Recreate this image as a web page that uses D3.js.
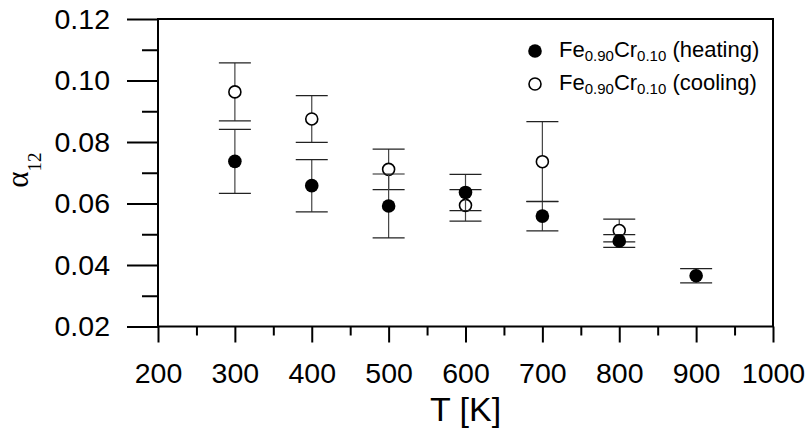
<!DOCTYPE html>
<html>
<head>
<meta charset="utf-8">
<script src="https://cdn.jsdelivr.net/npm/d3@7"></script>
<style>
  body { margin: 0; background: #fff; }
  svg { display: block; }
  text { font-family: "Liberation Sans", Arial, sans-serif; fill: #000; }
</style>
</head>
<body>
<div id="container"></div>
<script>
// Chart Data
var temps = [300, 400, 500, 600, 700, 800, 900];
var heating = [0.0737, 0.0658, 0.0592, 0.0636, 0.0559, 0.0478, 0.0365];
var heatingErr = [0.0104, 0.0085, 0.0104, 0.0059, 0.0048, 0.0021, 0.0023];
var coolTemps = [300, 400, 500, 600, 700, 800];
var cooling = [0.0963, 0.0875, 0.0711, 0.0594, 0.0736, 0.0512];
var coolingErr = [0.0094, 0.0076, 0.0066, 0.0051, 0.0130, 0.0037];
var xTicks = [200, 300, 400, 500, 600, 700, 800, 900, 1000];
var xMinor = [250, 350, 450, 550, 650, 750, 850, 950];
var yTicks = [0.02, 0.04, 0.06, 0.08, 0.10, 0.12];
var yMinor = [0.03, 0.05, 0.07, 0.09, 0.11];

var W = 807, H = 428;
var box = {left: 158, right: 773, top: 19, bottom: 326.5};

var svg = d3.select('#container').append('svg')
    .attr('width', W)
    .attr('height', H);

var x = d3.scaleLinear().domain([200, 1000]).range([box.left, box.right]);
var y = d3.scaleLinear().domain([0.02, 0.12]).range([box.bottom, box.top]);

// Minor Ticks First, Then Major Ticks With Labels
svg.append('g')
    .attr('transform', 'translate(0,' + box.bottom + ')')
    .call(d3.axisBottom(x).tickValues(xMinor).tickSize(9).tickSizeOuter(0).tickFormat(''))
    .call(function(g) { g.select('.domain').remove(); });
svg.append('g')
    .attr('transform', 'translate(0,' + box.bottom + ')')
    .call(d3.axisBottom(x).tickValues(xTicks).tickSize(16).tickSizeOuter(0).tickPadding(20).tickFormat(d3.format('d')))
    .call(function(g) { g.select('.domain').remove(); });

svg.append('g')
    .attr('transform', 'translate(' + box.left + ',0)')
    .call(d3.axisLeft(y).tickValues(yMinor).tickSize(16).tickSizeOuter(0).tickFormat(''))
    .call(function(g) { g.select('.domain').remove(); });
svg.append('g')
    .attr('transform', 'translate(' + box.left + ',0)')
    .call(d3.axisLeft(y).tickValues(yTicks).tickSize(31).tickSizeOuter(0).tickPadding(17).tickFormat(d3.format('.2f')))
    .call(function(g) { g.select('.domain').remove(); });

svg.selectAll('.tick line').attr('stroke', '#000').attr('stroke-width', 2);
svg.selectAll('.tick text')
    .attr('fill', '#000')
    .style('font-size', '28.5px')
    .style('font-family', '"Liberation Sans", Arial, sans-serif');

// Plot Frame
svg.append('rect')
    .attr('x', box.left)
    .attr('y', box.top)
    .attr('width', box.right - box.left)
    .attr('height', box.bottom - box.top)
    .attr('fill', 'none')
    .attr('stroke', '#000')
    .attr('stroke-width', 2);

// Error Bars And Markers For One Series
function drawSeries(xs, vals, errs, filled) {
  var g = svg.append('g');
  var rows = xs.map(function(t, i) { return {t: t, v: vals[i], e: errs[i]}; });
  g.selectAll('line.bar').data(rows).enter().append('line')
      .attr('x1', function(d) { return x(d.t); })
      .attr('x2', function(d) { return x(d.t); })
      .attr('y1', function(d) { return y(d.v + d.e); })
      .attr('y2', function(d) { return y(d.v - d.e); })
      .attr('stroke', '#444')
      .attr('stroke-width', 1.2);
  [1, -1].forEach(function(s) {
    g.selectAll('line.cap' + s).data(rows).enter().append('line')
        .attr('x1', function(d) { return x(d.t) - 16; })
        .attr('x2', function(d) { return x(d.t) + 16; })
        .attr('y1', function(d) { return y(d.v + s * d.e); })
        .attr('y2', function(d) { return y(d.v + s * d.e); })
        .attr('stroke', '#222')
        .attr('stroke-width', 1.2);
  });
  g.selectAll('circle').data(rows).enter().append('circle')
      .attr('cx', function(d) { return x(d.t); })
      .attr('cy', function(d) { return y(d.v); })
      .attr('r', filled ? 6.8 : 6)
      .attr('fill', filled ? '#000' : '#fff')
      .attr('stroke', '#000')
      .attr('stroke-width', filled ? 0 : 1.6);
}

drawSeries(coolTemps, cooling, coolingErr, false);
drawSeries(temps, heating, heatingErr, true);

// Legend
var legend = [
  {label: '(heating)', filled: true, y: 51},
  {label: '(cooling)', filled: false, y: 84}
];
legend.forEach(function(d) {
  svg.append('circle')
      .attr('cx', 535)
      .attr('cy', d.y)
      .attr('r', d.filled ? 6.8 : 6)
      .attr('fill', d.filled ? '#000' : '#fff')
      .attr('stroke', '#000')
      .attr('stroke-width', d.filled ? 0 : 1.6);
  var t = svg.append('text')
      .attr('x', 559)
      .attr('y', d.y + 6)
      .style('font-size', '22px');
  t.append('tspan').text('Fe');
  t.append('tspan').attr('dy', 4).style('font-size', '15px').text('0.90');
  t.append('tspan').attr('dy', -4).text('Cr');
  t.append('tspan').attr('dy', 4).style('font-size', '15px').text('0.10');
  t.append('tspan').attr('dy', -4).text(' ' + d.label);
});

// Axis Titles
svg.append('text')
    .attr('x', (box.left + box.right) / 2)
    .attr('y', 421)
    .attr('text-anchor', 'middle')
    .style('font-size', '34px')
    .text('T [K]');

var yt = svg.append('text')
    .attr('transform', 'translate(28,170) rotate(-90)')
    .attr('text-anchor', 'middle')
    .style('font-family', '"Liberation Serif", "Times New Roman", serif')
    .style('font-size', '31px');
yt.append('tspan').text('α');
yt.append('tspan').attr('dy', 13).style('font-size', '19px').text('12');
</script>
</body>
</html>
